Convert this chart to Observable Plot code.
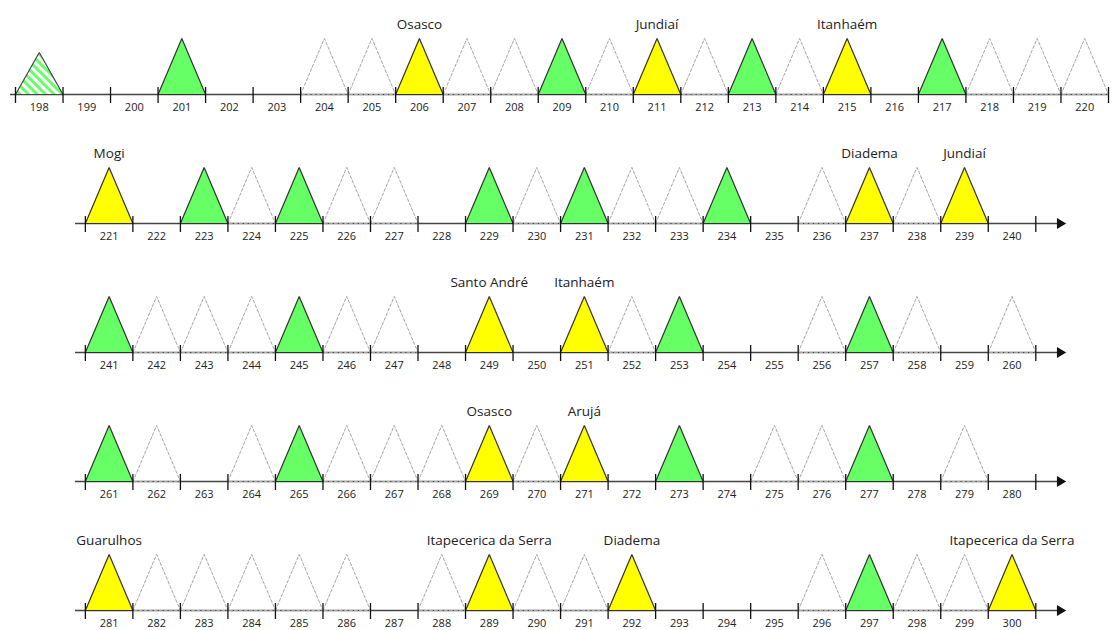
<!DOCTYPE html>
<html><head><meta charset="utf-8">
<script src="https://cdn.jsdelivr.net/npm/d3@7"></script>
<script src="https://cdn.jsdelivr.net/npm/@observablehq/plot@0.6"></script>
<style>html,body{margin:0;padding:0;background:#fff;overflow:hidden}</style>
</head><body><div id="chart"></div>
<script>
// ---- data ----
const rowStarts = [198, 221, 241, 261, 281];
const rowEnds = [220, 240, 260, 280, 300];
const greenDays = [201, 209, 213, 217, 223, 225, 229, 231, 234, 241, 245, 253, 257, 261, 265, 273, 277, 297];
const yellowDays = [206, 211, 215, 221, 237, 239, 249, 251, 269, 271, 281, 289, 292, 300];
const dashedDays = [204, 205, 207, 208, 210, 212, 214, 218, 219, 220,
  224, 226, 227, 230, 232, 233, 236, 238,
  242, 243, 244, 246, 247, 252, 256, 258, 260,
  262, 264, 266, 267, 268, 270, 275, 276, 279,
  282, 283, 284, 285, 286, 288, 290, 291, 296, 298, 299];
const hatchedDays = [198];
const hatchedHeights = [0.75];
const labelDays = [206, 211, 215, 221, 237, 239, 249, 251, 269, 271, 281, 289, 292, 300];
const labelNames = ["Osasco", "Jundiaí", "Itanhaém", "Mogi", "Diadema", "Jundiaí", "Santo André", "Itanhaém",
  "Osasco", "Arujá", "Guarulhos", "Itapecerica da Serra", "Diadema", "Itapecerica da Serra"];

// ---- layout helpers ----
const ROW_GAP = 2.3;
const rowOffset = [0, 1.47, 1.47, 1.47, 1.47];
const rowOf = d => { let r = 0; rowStarts.forEach((s, i) => { if (d >= s) r = i; }); return r; };
const ux = d => rowOffset[rowOf(d)] + d - rowStarts[rowOf(d)];
const base = d => rowOf(d) * ROW_GAP;
const tri = (d, h = 1) => {
  const x0 = ux(d), b = base(d);
  return [{id: d, x: x0, y: b}, {id: d, x: x0 + 0.5, y: b - h}, {id: d, x: x0 + 1, y: b}, {id: d, x: x0, y: b}];
};

const rows = rowStarts.map((s, i) => ({r: i, start: s, end: rowEnds[i]}));
const days = rows.flatMap(row => d3.range(row.start, row.end + 1));
const ticks = rows.flatMap(row => d3.range(row.start, row.end + 2).map(d => ({x: rowOffset[row.r] + d - row.start, y: row.r * ROW_GAP})));
const axisLines = rows.map(row => ({y: row.r * ROW_GAP, x1: row.r === 0 ? -0.105 : rowOffset[row.r] - 0.207, x2: row.r === 0 ? 23 : 21.95}));
const arrows = rows.filter(row => row.r > 0).map(row => ({x: 21.98, y: row.r * ROW_GAP}));

const greenTri = greenDays.flatMap(d => tri(d));
const yellowTri = yellowDays.flatMap(d => tri(d));
const dashedTri = dashedDays.flatMap(d => tri(d));
const hatchedTri = hatchedDays.flatMap((d, i) => tri(d, hatchedHeights[i]));
const labels = labelDays.map((d, i) => ({x: ux(d) + 0.5, y: base(d) - 1, text: labelNames[i]}));

const chart = Plot.plot({
  width: 1118,
  height: 630,
  margin: 0,
  style: {fontFamily: "'Open Sans', sans-serif", background: "#fff"},
  x: {domain: [0, 23], range: [15, 1108], axis: null},
  y: {domain: [0, 4 * ROW_GAP], range: [94, 610], axis: null},
  marks: [
    Plot.ruleY(axisLines, {y: "y", x1: "x1", x2: "x2", stroke: "#444", strokeWidth: 1.5}),
    Plot.line(dashedTri, {x: "x", y: "y", z: "id", stroke: "#a6a6a6", strokeWidth: 1, strokeDasharray: "3,2", curve: "linear"}),
    Plot.line(hatchedTri, {x: "x", y: "y", z: "id", fill: "url(#hatch)", stroke: "#444", strokeWidth: 1.2, strokeLinejoin: "miter"}),
    Plot.line(greenTri, {x: "x", y: "y", z: "id", fill: "#66ff66", stroke: "#333", strokeWidth: 1.2, strokeLinejoin: "miter"}),
    Plot.line(yellowTri, {x: "x", y: "y", z: "id", fill: "#ffff00", stroke: "#333", strokeWidth: 1.2, strokeLinejoin: "miter"}),
    Plot.ruleX(ticks, {x: "x", y1: d => d.y - 0.125, y2: d => d.y + 0.16, stroke: "#111", strokeWidth: 1.3}),
    Plot.dot(arrows, {x: "x", y: "y", symbol: "triangle", rotate: 90, r: 4, fill: "#111", stroke: "none"}),
    Plot.text(days, {x: d => ux(d) + 0.5, y: d => base(d), dy: 12.5, text: d => String(d), fontSize: 11, fill: "#222"}),
    Plot.text(labels, {x: "x", y: "y", dy: -14, text: "text", fontSize: 13.5, fill: "#222"})
  ]
});

const svg = d3.select(chart);
const defs = svg.insert("defs", ":first-child");
const pat = defs.append("pattern").attr("id", "hatch").attr("patternUnits", "userSpaceOnUse")
  .attr("width", 6).attr("height", 6).attr("patternTransform", "rotate(-45)");
pat.append("rect").attr("width", 6).attr("height", 6).attr("fill", "#fff");
pat.append("rect").attr("width", 3).attr("height", 6).attr("fill", "#66ff66");
document.getElementById("chart").appendChild(chart);
</script>
</body></html>
